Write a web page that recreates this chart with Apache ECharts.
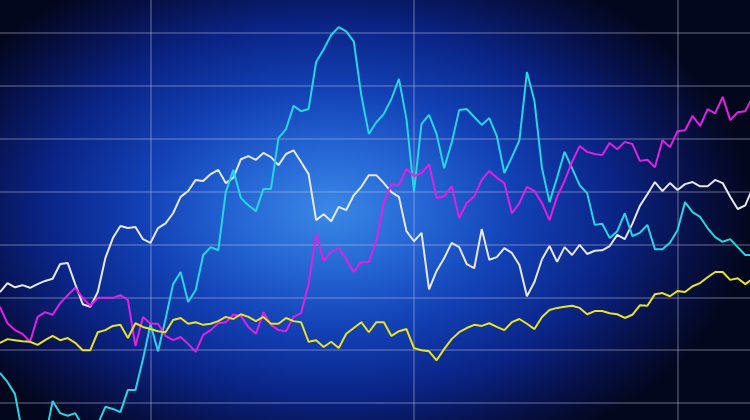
<!DOCTYPE html>
<html>
<head>
<meta charset="utf-8">
<script src="https://cdn.jsdelivr.net/npm/echarts@6/dist/echarts.min.js"></script>
<style>html,body{margin:0;padding:0;background:#03071e;}#c{width:750px;height:420px;}</style>
</head>
<body>
<div id="c"></div>
<script>
// time index (days) — one sample per day
var days = [];
for (var d = 15; d <= 115; d++) days.push(d);

var whiteSeries = [
31.0,32.7,31.9,32.3,31.8,32.5,33.1,33.5,36.3,36.5,
32.5,28.7,28.2,31.0,37.4,41.2,43.5,43.1,43.3,41.0,
40.3,43.1,44.0,45.9,49.0,50.1,52.2,52.0,53.3,54.1,
51.6,52.6,56.1,56.7,56.0,57.3,56.5,55.0,57.1,57.8,
55.6,53.3,44.6,45.7,44.4,47.1,46.5,49.3,50.9,53.1,
53.1,51.6,49.9,49.0,42.5,40.6,42.2,31.5,35.0,37.4,
40.3,39.5,36.3,35.5,42.9,37.1,37.6,39.3,38.4,36.1,
30.2,32.9,37.2,39.7,36.7,39.5,38.0,39.9,38.2,38.8,
38.9,39.7,41.8,41.0,43.9,47.3,49.5,51.8,50.1,51.6,
50.3,51.4,51.8,51.0,51.0,52.2,51.6,49.0,46.7,47.4,
50.7];

var cyanSeries = [
15.7,14.0,11.7,4.2,1.5,2.3,3.2,10.4,8.1,7.6,
8.1,5.7,3.6,6.0,9.3,8.9,8.3,12.5,12.5,18.3,
24.9,19.8,25.9,32.5,34.8,29.1,31.4,38.0,39.5,38.9,
49.9,54.1,48.8,47.4,46.3,50.5,50.5,60.1,61.8,66.2,
65.2,65.6,74.5,76.9,79.6,81.1,80.3,78.4,68.2,60.9,
63.1,64.7,67.5,71.3,63.7,50.0,62.8,64.5,60.9,54.4,
59.2,65.4,65.6,64.1,62.6,63.9,60.5,53.5,56.5,59.7,
72.6,67.1,54.4,48.0,52.6,57.5,54.4,51.2,49.7,43.7,
43.9,41.2,42.5,45.9,41.6,42.2,43.7,39.1,39.1,40.3,
42.7,48.0,46.1,45.2,43.1,41.4,40.5,41.0,39.5,38.0,
38.0];

var magentaSeries = [
28.2,25.1,23.8,23.1,21.6,26.3,27.2,26.7,28.9,30.4,
31.8,29.9,28.4,29.9,29.9,29.9,30.4,29.5,20.8,26.3,
25.0,25.0,22.7,21.9,22.5,21.2,19.7,22.9,23.8,25.1,
25.3,26.7,26.5,24.4,23.1,27.2,24.8,23.8,23.6,26.3,
27.0,32.5,42.0,36.9,38.6,39.3,37.2,34.8,36.7,36.7,
40.6,48.0,51.4,51.2,54.3,52.9,53.5,55.2,48.8,49.1,
51.0,45.0,47.8,49.1,52.2,53.9,52.6,51.6,45.9,47.8,
50.9,50.1,47.8,44.6,49.0,52.0,55.6,58.6,57.5,57.1,
56.9,59.2,58.0,59.4,59.0,55.8,56.0,54.6,59.7,58.4,
61.4,61.6,64.3,62.4,65.6,64.8,67.9,63.5,65.0,65.2,
67.9];

var yellowSeries = [
21.4,22.1,21.9,21.7,21.6,21.0,21.9,22.7,21.9,22.3,
21.4,20.0,20.0,23.4,23.8,24.6,24.8,22.3,25.1,24.4,
24.0,23.6,23.4,25.7,26.1,25.0,25.3,24.8,25.0,25.5,
26.3,25.9,26.8,26.3,25.5,26.3,25.0,25.0,26.1,25.5,
25.3,21.6,21.9,20.6,21.6,20.4,23.1,24.2,25.3,23.4,
25.3,25.3,22.7,23.6,24.0,20.4,20.0,19.8,18.1,20.2,
22.1,23.4,24.2,24.8,24.6,25.1,24.4,23.8,25.3,25.9,
25.0,24.0,26.3,27.6,28.0,28.2,28.4,28.0,26.8,27.4,
27.4,27.0,26.8,26.1,26.7,28.5,28.4,30.6,30.8,30.2,
31.2,31.0,32.1,32.7,33.8,34.8,34.8,33.3,33.6,32.5,
33.5];

function pairs(vals) {
  var out = [];
  for (var i = 0; i < vals.length && i < days.length; i++) out.push([days[i], vals[i]]);
  return out;
}

var chart = echarts.init(document.getElementById('c'), null, {renderer: 'canvas'});
function line(name, vals, color) {
  return {
    name: name, type: 'line', data: pairs(vals), showSymbol: false, symbol: 'none',
    lineStyle: {color: color, width: 2}, itemStyle: {color: color}, clip: false,
    z: 3
  };
}
chart.setOption({
  animation: false,
  backgroundColor: '#03071e',
  graphic: {
    elements: [{
      type: 'rect', silent: true, z: -100,
      x: 330, y: 210, scaleX: 1.2, scaleY: 0.78,
      shape: {x: -350, y: -350, width: 700, height: 700},
      style: {
        fill: {
          type: 'radial', x: 0.5, y: 0.5, r: 0.5,
          colorStops: [
            {offset: 0, color: '#3a88e6'},
            {offset: 0.22, color: '#2566d4'},
            {offset: 0.45, color: '#1240b4'},
            {offset: 0.68, color: '#0a2486'},
            {offset: 0.86, color: '#07114a'},
            {offset: 1, color: '#03071e'}
          ]
        }
      }
    }]
  },
  grid: {left: -113, top: -20, width: 1054, height: 476, containLabel: false, outerBoundsMode: 'none', show: false},
  xAxis: {
    type: 'value', min: 0, max: 140, interval: 35,
    axisLine: {show: false}, axisTick: {show: false}, axisLabel: {show: false},
    splitLine: {show: true, lineStyle: {color: 'rgba(190,195,225,0.36)', width: 1.5}}
  },
  yAxis: {
    type: 'value', min: 0, max: 90, interval: 10,
    axisLine: {show: false}, axisTick: {show: false}, axisLabel: {show: false},
    splitLine: {show: true, lineStyle: {color: 'rgba(190,195,225,0.36)', width: 1.5}}
  },
  series: [
    line('white', whiteSeries, '#e6e8f2'),
    line('cyan', cyanSeries, '#25d6e4'),
    line('magenta', magentaSeries, '#e021e4'),
    line('yellow', yellowSeries, '#e9e321')
  ]
});
</script>
</body>
</html>
